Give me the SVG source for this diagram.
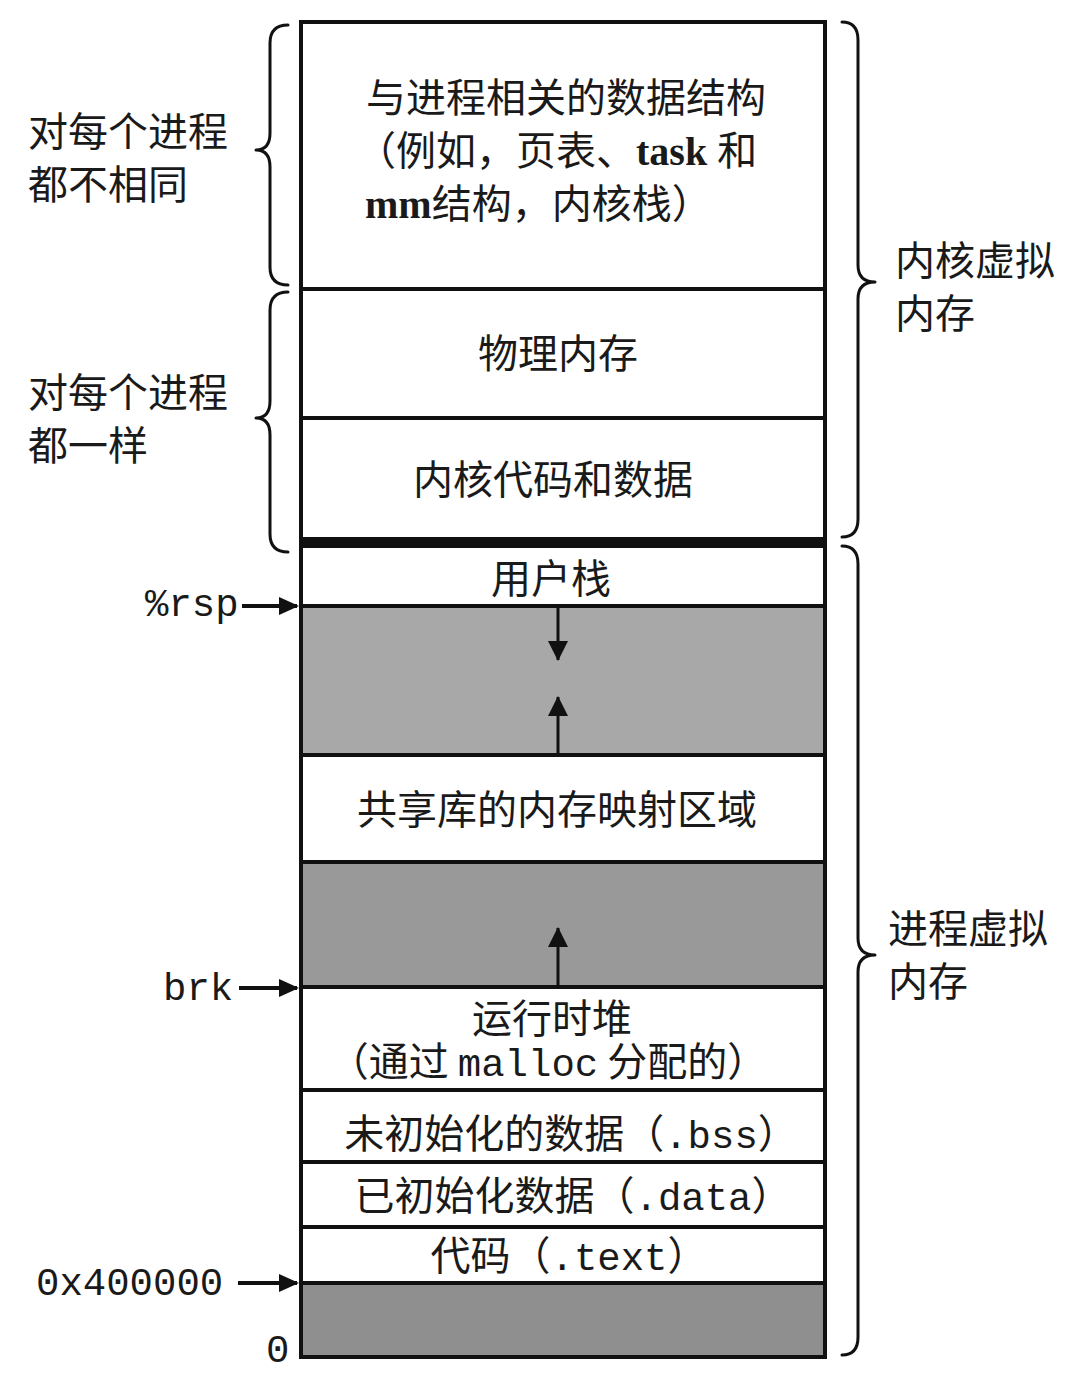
<svg xmlns="http://www.w3.org/2000/svg" width="1070" height="1374" viewBox="0 0 1070 1374">
<style>
.cjk{font-family:"Noto Sans CJK SC","Liberation Sans",sans-serif;font-size:40px;fill:#1a1a1a}
.mono{font-family:"Liberation Mono","DejaVu Sans Mono",monospace;font-size:39px;fill:#1a1a1a}
.ser{font-family:"Liberation Serif","Noto Sans CJK SC",serif;font-weight:bold}
.seg{fill:#fff;stroke:#111;stroke-width:4}
.g1{fill:#a8a8a8;stroke:#111;stroke-width:4}
.g2{fill:#999;stroke:#111;stroke-width:4}
.g3{fill:#8f8f8f;stroke:#111;stroke-width:4}
.brace{fill:none;stroke:#111;stroke-width:3;stroke-linecap:round;stroke-linejoin:round}
.arr{stroke:#111;stroke-width:4;fill:none}
.iarr{stroke:#111;stroke-width:3;fill:none}
</style>
<defs>
<marker id="ah" markerUnits="userSpaceOnUse" markerWidth="20" markerHeight="18" refX="18" refY="9" orient="auto">
<path d="M0,0 L20,9 L0,18 Z" fill="#111"/>
</marker>
<marker id="ahi" markerUnits="userSpaceOnUse" markerWidth="20" markerHeight="20" refX="19" refY="10" orient="auto">
<path d="M0,0 L20,10 L0,20 Z" fill="#111"/>
</marker>
</defs>
<rect width="1070" height="1374" fill="#fff"/>

<g id="kernel-process-data">
<rect class="seg" x="301" y="22" width="524" height="267"/>
<text class="cjk" x="366" y="112">与进程相关的数据结构</text>
<text class="cjk" x="356" y="165">（例如，页表、<tspan class="ser">task </tspan>和</text>
<text class="cjk" x="365" y="218"><tspan class="ser">mm</tspan>结构，内核栈）</text>
</g>
<g id="physical-memory">
<rect class="seg" x="301" y="289" width="524" height="129"/>
<text class="cjk" x="558" y="368" text-anchor="middle">物理内存</text>
</g>
<g id="kernel-code-data">
<rect class="seg" x="301" y="418" width="524" height="121"/>
<text class="cjk" x="553" y="494" text-anchor="middle">内核代码和数据</text>
</g>
<rect x="299" y="537" width="528" height="10" fill="#111"/>
<g id="user-stack">
<rect class="seg" x="301" y="546" width="524" height="60"/>
<text class="cjk" x="551" y="593" text-anchor="middle">用户栈</text>
</g>
<g id="gap-stack">
<rect class="g1" x="301" y="606" width="524" height="149"/>
</g>
<g id="shared-libs">
<rect class="seg" x="301" y="755" width="524" height="107"/>
<text class="cjk" x="557" y="824" text-anchor="middle">共享库的内存映射区域</text>
</g>
<g id="gap-heap">
<rect class="g2" x="301" y="862" width="524" height="125"/>
</g>
<g id="heap">
<rect class="seg" x="301" y="987" width="524" height="103"/>
<text class="cjk" x="552" y="1033" text-anchor="middle">运行时堆</text>
<text class="cjk" x="548" y="1076" text-anchor="middle">（通过 <tspan class="mono" font-size="38">malloc</tspan> 分配的）</text>
</g>
<g id="bss">
<rect class="seg" x="301" y="1090" width="524" height="72"/>
<text class="cjk" x="571" y="1148" text-anchor="middle">未初始化的数据（<tspan class="mono" font-size="40">.bss</tspan>）</text>
</g>
<g id="data">
<rect class="seg" x="301" y="1162" width="524" height="65"/>
<text class="cjk" x="573" y="1210" text-anchor="middle">已初始化数据（<tspan class="mono" font-size="40">.data</tspan>）</text>
</g>
<g id="text-seg">
<rect class="seg" x="301" y="1227" width="524" height="56"/>
<text class="cjk" x="569" y="1270" text-anchor="middle">代码（<tspan class="mono" font-size="40">.text</tspan>）</text>
</g>
<g id="reserved">
<rect class="g3" x="301" y="1283" width="524" height="74"/>
</g>

<g id="braces">
<path class="brace" d="M288,25 Q270,25 270,43 L270,133 Q270,150 256,150 Q270,150 270,167 L270,267 Q270,285 288,285"/>
<path class="brace" d="M288,292 Q270,292 270,310 L270,401 Q270,418 256,418 Q270,418 270,435 L270,534 Q270,552 288,552"/>
<path class="brace" d="M842,22 Q858,22 858,40 L858,265 Q858,282 875,282 Q858,282 858,299 L858,519 Q858,537 842,537"/>
<path class="brace" d="M842,546 Q858,546 858,564 L858,938 Q858,955 875,955 Q858,955 858,972 L858,1337 Q858,1355 842,1355"/>
</g>
<g id="labels">
<text class="cjk" x="28" y="146">对每个进程</text>
<text class="cjk" x="28" y="199">都不相同</text>
<text class="cjk" x="28" y="407">对每个进程</text>
<text class="cjk" x="28" y="460">都一样</text>
<text class="cjk" x="895" y="275">内核虚拟</text>
<text class="cjk" x="895" y="328">内存</text>
<text class="cjk" x="888" y="943">进程虚拟</text>
<text class="cjk" x="888" y="996">内存</text>
<text class="mono" x="145" y="616">%rsp</text>
<text class="mono" x="163" y="1000" font-size="40">brk</text>
<text class="mono" x="36" y="1295">0x400000</text>
<text class="mono" x="266" y="1362">0</text>
</g>

<g id="connectors">
<line class="arr" x1="242" y1="606" x2="297" y2="606" marker-end="url(#ah)"/>
<line class="arr" x1="239" y1="988" x2="297" y2="988" marker-end="url(#ah)"/>
<line class="arr" x1="238" y1="1283" x2="297" y2="1283" marker-end="url(#ah)"/>
<line class="iarr" x1="558" y1="608" x2="558" y2="660" marker-end="url(#ahi)"/>
<line class="iarr" x1="558" y1="753" x2="558" y2="697" marker-end="url(#ahi)"/>
<line class="iarr" x1="558" y1="985" x2="558" y2="928" marker-end="url(#ahi)"/>
</g>
</svg>
